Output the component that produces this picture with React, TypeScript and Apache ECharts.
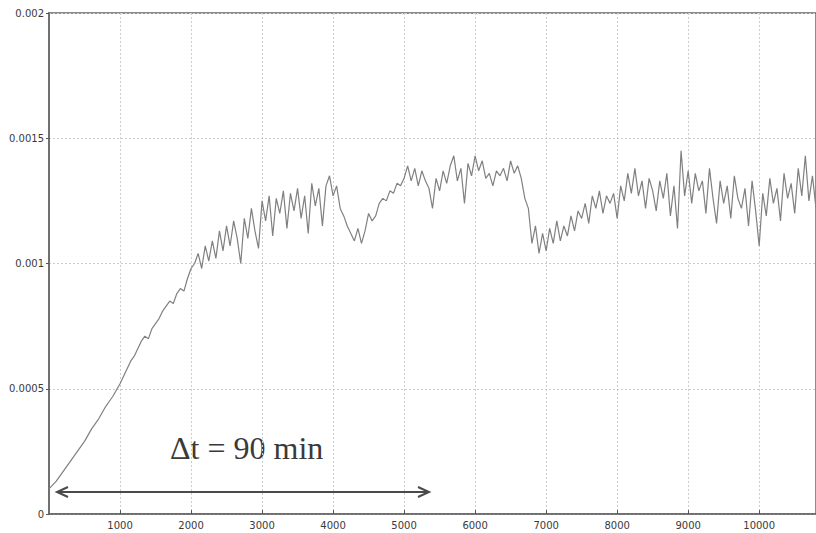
import React, { useEffect, useRef } from "react";
import * as echarts from "echarts";

// sampling step of the recorded signal (time axis units)
const timeStep = 50;

// signal values in units of 1e-5, sampled every 50 time units from 0 to 10800
const signalE5 = [
  // 0 - 1000
  10, 11.5, 13, 15, 17, 19, 21, 23, 25, 27, 29, 31.5, 34, 36, 38, 40.5, 43, 45, 47, 49.5, 52,
  // 1050 - 2000
  55, 58, 61, 63, 66, 69, 71, 70, 74, 76, 78, 81, 83, 85, 84, 88, 90, 89, 94, 98,
  // 2050 - 3000
  100, 104, 98, 107, 101, 109, 102, 113, 105, 115, 107, 117, 110, 100, 118, 110, 122, 113, 106, 125,
  // 3050 - 4000
  117, 127, 111, 126, 120, 129, 114, 128, 121, 130, 118, 127, 112, 132, 123, 130, 115, 131, 135, 127,
  // 4050 - 5000
  131, 122, 119, 115, 112, 109, 114, 108, 113, 120, 117, 119, 124, 126, 125, 129, 128, 132, 131, 134,
  // 5050 - 6000
  139, 133, 138, 131, 137, 133, 130, 122, 134, 129, 137, 132, 139, 143, 133, 138, 124, 140, 135, 143,
  // 6050 - 7000
  137, 141, 134, 136, 131, 137, 135, 138, 133, 141, 136, 139, 134, 126, 122, 108, 115, 104, 112, 105,
  // 7050 - 8000
  114, 108, 117, 109, 115, 111, 119, 113, 121, 118, 124, 116, 127, 122, 129, 120, 127, 124, 128, 118,
  // 8050 - 9000
  131, 125, 136, 128, 138, 127, 133, 122, 134, 129, 121, 133, 126, 136, 119, 131, 114, 145, 127, 137,
  // 9050 - 10000
  124, 136, 129, 133, 120, 138, 126, 116, 133, 124, 131, 118, 135, 126, 122, 130, 115, 133, 121, 107,
  // 10050 - 10800
  128, 119, 134, 124, 130, 117, 136, 126, 132, 120, 138, 127, 143, 125, 135, 122,
];

const yTickValues = [0, 0.0005, 0.001, 0.0015, 0.002];
const yTickLabels = ["0", "0.0005", "0.001", "0.0015", "0.002"];
const xTickLabels = ["1000", "2000", "3000", "4000", "5000", "6000", "7000", "8000", "9000", "10000"];
const annotationText = "\u0394t = 90 min";

export default function App() {
  const ref = useRef<HTMLDivElement>(null);

  useEffect(() => {
    document.body.style.margin = "0";
    const chart = echarts.init(ref.current!, null, { renderer: "svg" });
    const data = signalE5.map((v, i) => [i * timeStep, v * 1e-5]);

    chart.setOption({
      animation: false,
      backgroundColor: "#ffffff",
      grid: {
        left: 49,
        right: -2,
        top: 13,
        bottom: 19,
        show: true,
        borderColor: "#666666",
        borderWidth: 1.5,
      },
      xAxis: {
        type: "value",
        min: 0,
        max: 10800,
        interval: 1000,
        axisLine: { show: true, lineStyle: { color: "#666666", width: 1.5 } },
        axisTick: { show: true, inside: true, length: 4, lineStyle: { color: "#555555" } },
        axisLabel: {
          color: "#3a3a3a",
          fontFamily: "DejaVu Sans",
          fontSize: 10,
          margin: 6,
          showMinLabel: false,
          showMaxLabel: false,
          formatter: (v: number) => {
            const s = String(Math.round(v));
            return xTickLabels.includes(s) ? s : "";
          },
        },
        splitLine: { show: true, lineStyle: { color: "#cccccc", type: [2, 2], width: 1 } },
      },
      yAxis: {
        type: "value",
        min: 0,
        max: 0.002,
        interval: 0.0005,
        axisLine: { show: true, lineStyle: { color: "#707070", width: 2 } },
        axisTick: { show: true, inside: false, length: 3, lineStyle: { color: "#555555" } },
        axisLabel: {
          color: "#3a3a3a",
          fontFamily: "DejaVu Sans",
          fontSize: 10,
          margin: 5,
          formatter: (v: number) => {
            const idx = yTickValues.findIndex((t) => Math.abs(t - v) < 1e-9);
            return idx >= 0 ? yTickLabels[idx] : "";
          },
        },
        splitLine: { show: true, lineStyle: { color: "#cccccc", type: [2, 2], width: 1 } },
      },
      series: [
        {
          type: "line",
          data,
          showSymbol: false,
          symbol: "none",
          lineStyle: { color: "#808080", width: 1.2 },
        },
      ],
      graphic: [
        {
          type: "text",
          left: 170,
          top: 432,
          style: {
            text: annotationText,
            font: "32px 'Liberation Serif', serif",
            fill: "#3a3a3a",
          },
        },
        {
          type: "line",
          shape: { x1: 58, y1: 492, x2: 429, y2: 492 },
          style: { stroke: "#4a4a4a", lineWidth: 2 },
        },
        {
          type: "polyline",
          shape: { points: [[68, 487], [57, 492], [68, 497]] },
          style: { stroke: "#4a4a4a", lineWidth: 2, fill: null },
        },
        {
          type: "polyline",
          shape: { points: [[418, 487], [429, 492], [418, 497]] },
          style: { stroke: "#4a4a4a", lineWidth: 2, fill: null },
        },
      ],
    });

    return () => chart.dispose();
  }, []);

  return <div ref={ref} style={{ width: 816, height: 533 }} />;
}
